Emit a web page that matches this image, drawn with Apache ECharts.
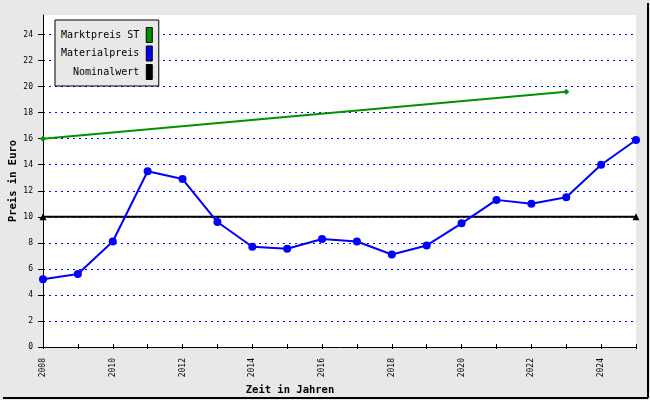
<!DOCTYPE html>
<html>
<head>
<meta charset="utf-8">
<script src="https://cdn.jsdelivr.net/npm/echarts@6/dist/echarts.min.js"></script>
<style>
html,body{margin:0;padding:0;background:#e8e8e8;}
#c{width:650px;height:400px;}
</style>
</head>
<body>
<div id="c"></div>
<script>
const years = [2008,2009,2010,2011,2012,2013,2014,2015,2016,2017,2018,2019,2020,2021,2022,2023,2024,2025];
const materialpreis = [5.2,5.6,8.1,13.5,12.9,9.6,7.7,7.55,8.3,8.1,7.1,7.8,9.5,11.3,11.0,11.5,14.0,15.9];
const marktpreisYears = [2008,2023];
const marktpreis = [16.0,19.6];
const nominalYears = [2008,2025];
const nominalwert = [10,10];
const yTicks = [0,2,4,6,8,10,12,14,16,18,20,22,24];
const xLabelYears = [2008,2010,2012,2014,2016,2018,2020,2022,2024];

const mono = 'DejaVu Sans Mono';
const chart = echarts.init(document.getElementById('c'));
const xCommon = {type:'value', min:2008, max:2025, interval:1};
chart.setOption({
  backgroundColor:'#e8e8e8',
  animation:false,
  grid:{left:43, right:14, top:15, bottom:53, show:true, backgroundColor:'#ffffff', borderWidth:0,
        containLabel:false, outerBoundsMode:'none'},
  legend:{
    orient:'vertical', left:55, top:20, align:'right',
    backgroundColor:'#e8e8e8', borderColor:'#000', borderWidth:1,
    padding:[7,6,6,6], itemGap:2.5, itemWidth:6, itemHeight:15,
    icon:'rect',
    textStyle:{fontFamily:mono, fontSize:10, color:'#000', padding:[0,2,0,0]},
    itemStyle:{borderColor:'#000', borderWidth:1},
    data:['Marktpreis ST','Materialpreis','Nominalwert']
  },
  xAxis:[
    Object.assign({}, xCommon, {
      name:'Zeit in Jahren', nameLocation:'middle', nameGap:38, nameMoveOverlap:false,
      nameTextStyle:{fontFamily:mono, fontSize:10.5, fontWeight:'bold', color:'#000', padding:[0,99,0,0]},
      axisLine:{lineStyle:{color:'#000', width:1}},
      axisTick:{show:true, length:2, lineStyle:{color:'#000'}},
      axisLabel:{rotate:90, margin:11, fontFamily:mono, fontSize:8, color:'#000',
        formatter:v => (xLabelYears.indexOf(v) >= 0) ? String(v) : ''},
      splitLine:{show:false}
    }),
    Object.assign({}, xCommon, {
      position:'bottom',
      axisLine:{show:false},
      axisTick:{show:true, inside:true, length:3, lineStyle:{color:'#000'}},
      axisLabel:{show:false}, splitLine:{show:false}
    })
  ],
  yAxis:[{
    type:'value', min:0, max:25.5, interval:2,
    name:'Preis in Euro', nameLocation:'middle', nameGap:24, nameMoveOverlap:false,
    nameTextStyle:{fontFamily:mono, fontSize:10.5, fontWeight:'bold', color:'#000'},
    axisLine:{show:true, lineStyle:{color:'#000', width:1}},
    axisTick:{show:true, length:5, customValues:yTicks, lineStyle:{color:'#000'}},
    axisLabel:{margin:10, fontFamily:mono, fontSize:8, color:'#000', customValues:yTicks,
      formatter:v => yTicks.indexOf(v) >= 0 ? String(v) : ''},
    splitLine:{show:true, lineStyle:{color:'#0000ff', type:[2,4], width:1}}
  }],
  graphic:[
    {type:'line', shape:{x1:648, y1:3, x2:648, y2:398}, style:{stroke:'#000', lineWidth:2}, z:100},
    {type:'line', shape:{x1:3, y1:398, x2:648, y2:398}, style:{stroke:'#000', lineWidth:2}, z:100}
  ],
  series:[
    {
      name:'Marktpreis ST', type:'line', color:'#009000',
      data:marktpreisYears.map((y,i)=>[y, marktpreis[i]]),
      symbol:'diamond', symbolSize:6, lineStyle:{width:2, color:'#009000'},
      itemStyle:{color:'#009000'}, z:3
    },
    {
      name:'Materialpreis', type:'line', color:'#0000ff',
      data:years.map((y,i)=>[y, materialpreis[i]]),
      symbol:'circle', symbolSize:8, showAllSymbol:true, lineStyle:{width:2, color:'#0000ff'},
      itemStyle:{color:'#0000ff'}, z:4
    },
    {
      name:'Nominalwert', type:'line', color:'#000000',
      data:nominalYears.map((y,i)=>[y, nominalwert[i]]),
      symbol:'triangle', symbolSize:7, lineStyle:{width:2, color:'#000'},
      itemStyle:{color:'#000'}, z:2
    }
  ]
});
</script>
</body>
</html>
